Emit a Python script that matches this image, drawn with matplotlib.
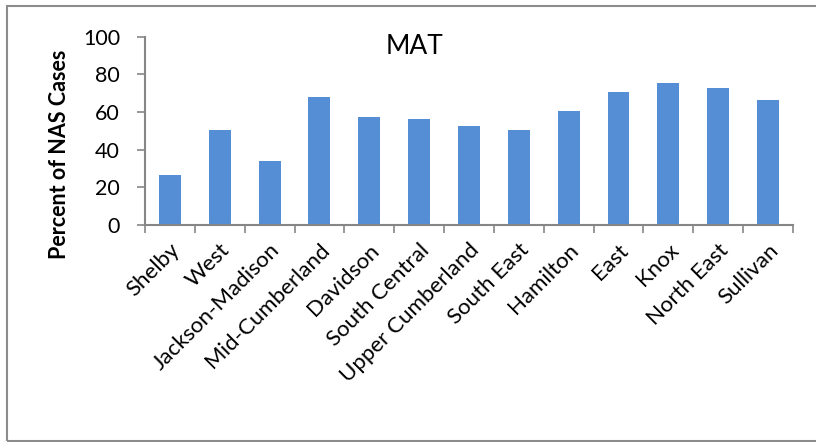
import matplotlib
matplotlib.use("Agg")
import matplotlib.pyplot as plt
from matplotlib.patches import Rectangle
import numpy as np

plt.rcParams['font.family'] = ['Lato', 'DejaVu Sans']

regions = ['Shelby', 'West', 'Jackson-Madison', 'Mid-Cumberland', 'Davidson',
           'South Central', 'Upper Cumberland', 'South East', 'Hamilton',
           'East', 'Knox', 'North East', 'Sullivan']
mat_pct = [26.3, 50.4, 33.7, 67.9, 57.1, 56.2, 52.7, 50.4, 60.5, 70.6, 75.4, 72.5, 66.3]
y_ticks = [0, 20, 40, 60, 80, 100]

bar_color = '#558ED5'
axis_color = '#868686'

fig = plt.figure(figsize=(8.16, 4.42), dpi=100)
ax = fig.add_axes([0.1777, 0.4916, 0.7941, 0.4254])

x = np.arange(len(regions))
ax.bar(x, mat_pct, width=0.44, color=bar_color, zorder=2)

ax.set_xlim(-0.5, len(regions) - 0.5)
ax.set_ylim(0, 100)
ax.set_yticks(y_ticks)
ax.set_yticklabels([str(t) for t in y_ticks], fontsize=15.5)

# category labels sit between boundary ticks
ax.set_xticks(x)
ax.set_xticklabels(regions, rotation=45, ha='right', rotation_mode='anchor', fontsize=16)
ax.tick_params(axis='x', length=0, pad=11)
ax.set_xticks(np.arange(-0.5, len(regions)), minor=True)
ax.tick_params(axis='x', which='minor', length=6, width=1.2, color=axis_color, direction='out')
ax.tick_params(axis='y', length=6, width=1.2, color=axis_color, direction='out', pad=12)

for side in ['top', 'right']:
    ax.spines[side].set_visible(False)
for side in ['left', 'bottom']:
    ax.spines[side].set_color(axis_color)
    ax.spines[side].set_linewidth(1.5)

fig.text(414 / 816, 1 - 47 / 442, 'MAT', fontsize=19, ha='center', va='center')
fig.text(60 / 816, 1 - 154 / 442, 'Percent of NAS Cases', fontsize=15.5, fontweight='bold',
         rotation=90, ha='center', va='center')

# chart frame (right edge runs off the canvas)
fig.patches.append(Rectangle((7 / 816, 1 - 441 / 442), 830 / 816, 435 / 442,
                             transform=fig.transFigure, fill=False,
                             edgecolor='#8c8c8c', linewidth=1.5))

fig.savefig('out.png', dpi=100)
